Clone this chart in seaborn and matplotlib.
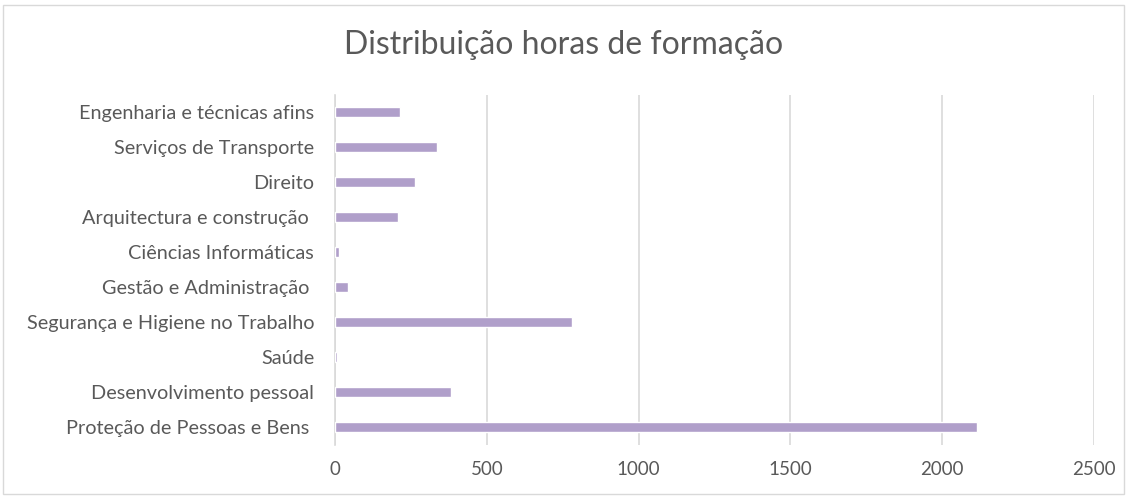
import matplotlib
matplotlib.use("Agg")
import matplotlib.pyplot as plt
import seaborn as sns
import pandas as pd
from matplotlib.patches import Rectangle

categories = [
    "Engenharia e técnicas afins",
    "Serviços de Transporte",
    "Direito",
    "Arquitectura e construção ",
    "Ciências Informáticas",
    "Gestão e Administração ",
    "Segurança e Higiene no Trabalho",
    "Saúde",
    "Desenvolvimento pessoal",
    "Proteção de Pessoas e Bens ",
]
hours = [214, 335, 262, 207, 14, 44, 782, 6, 383, 2115]
x_ticks = [0, 500, 1000, 1500, 2000, 2500]
title = "Distribuição horas de formação"

sns.set_theme(style="white")
plt.rcParams["font.family"] = ["Lato", "DejaVu Sans"]

df = pd.DataFrame({"cat": categories, "hours": hours})

fig = plt.figure(figsize=(11.27, 4.97), dpi=100)
ax = fig.add_axes([335 / 1127, 1 - 444.5 / 497, (1094 - 335) / 1127, 350 / 497])

sns.barplot(data=df, x="hours", y="cat", color="#b09fca", saturation=1,
            width=0.3, ax=ax, zorder=3)

ax.set_xlim(0, 2500)
ax.set_ylim(len(categories) - 0.5, -0.5)
ax.set_xticks(x_ticks)
ax.set_xticklabels([str(t) for t in x_ticks])
ax.xaxis.grid(True, color="#d9d9d9", linewidth=1.2, zorder=0)
ax.yaxis.grid(False)
for s in ["top", "right", "bottom"]:
    ax.spines[s].set_visible(False)
ax.spines["left"].set_color("#d9d9d9")
ax.spines["left"].set_linewidth(1.2)
ax.tick_params(axis="y", length=0, colors="#595959", labelsize=14.3, pad=15)
ax.tick_params(axis="x", length=0, colors="#595959", labelsize=13.5, pad=12)
ax.set_xlabel("")
ax.set_ylabel("")

fig.text(0.5, 1 - 45 / 497, title, ha="center", va="center",
         fontsize=23, color="#595959")

fig.patches.append(Rectangle((3 / 1127, 3 / 497), 1121 / 1127, 489 / 497,
                             transform=fig.transFigure, fill=False,
                             edgecolor="#d9d9d9", linewidth=1))

fig.savefig("out.png", dpi=100, facecolor="white")
